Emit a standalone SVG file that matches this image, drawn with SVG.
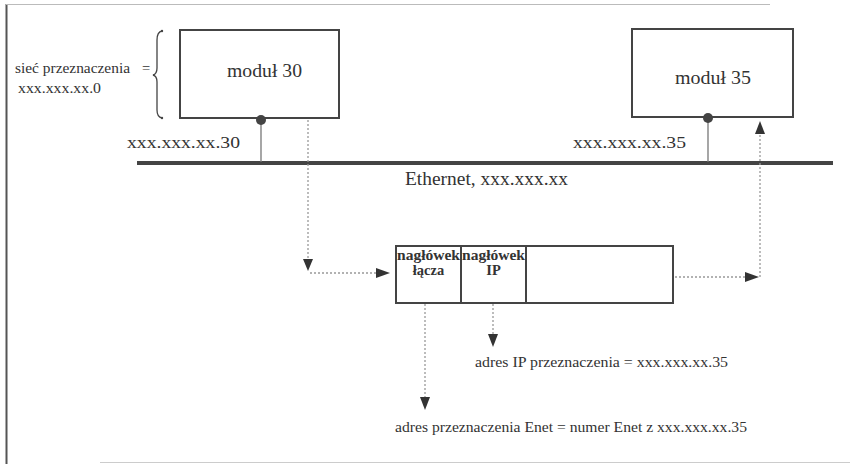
<svg xmlns="http://www.w3.org/2000/svg" width="850" height="464" viewBox="0 0 850 464" font-family="'Liberation Serif', 'DejaVu Serif', serif">
<style>
  text { font-family: "Liberation Serif", "DejaVu Serif", serif; fill: #333; }
  .box { fill: #fff; stroke: #444; stroke-width: 2; }
  .solid { stroke: #777; stroke-width: 1.3; fill: none; }
  .dot { stroke: #999; stroke-width: 1.3; stroke-dasharray: 2 2; fill: none; }
  .ah { fill: #333; }
  .b { font-weight: bold; }
</style>
<rect width="850" height="464" fill="#fff"/>
<g id="frame">
  <line x1="6.5" y1="4" x2="6.5" y2="464" stroke="#555" stroke-width="2"/>
  <line x1="6" y1="4.5" x2="770" y2="4.5" stroke="#bbb" stroke-width="1"/>
  <line x1="100" y1="462.5" x2="850" y2="462.5" stroke="#ccc" stroke-width="1"/>
</g>
<g id="ethernet">
  <line x1="137" y1="163" x2="833" y2="163" stroke="#444" stroke-width="4"/>
  <text x="405" y="185" font-size="19" textLength="163" lengthAdjust="spacingAndGlyphs">Ethernet, xxx.xxx.xx</text>
</g>
<g id="connectors">
  <line class="solid" x1="261" y1="121" x2="261" y2="162"/>
  <line class="solid" x1="708" y1="117" x2="708" y2="162"/>
  <polyline class="dot" points="308,120 308,260"/>
  <polygon class="ah" points="303,259 313,259 308,271"/>
  <polyline class="dot" points="310,273 376,273"/>
  <polygon class="ah" points="376,268 376,278 390,273"/>
  <polyline class="dot" points="675,277 746,277"/>
  <polygon class="ah" points="745,272 745,282 759,277"/>
  <polyline class="dot" points="760,277 760,134"/>
  <polygon class="ah" points="755,134 765,134 760,121"/>
  <polyline class="dot" points="425,304 425,398"/>
  <polygon class="ah" points="420,397 430,397 425,410"/>
  <polyline class="dot" points="493,304 493,335"/>
  <polygon class="ah" points="488,334 498,334 493,347"/>
</g>
<g id="modul30">
  <rect class="box" x="180" y="30" width="159" height="88"/>
  <text x="227" y="77" font-size="19.5" textLength="75" lengthAdjust="spacingAndGlyphs">moduł 30</text>
  <circle cx="261" cy="120" r="5" fill="#444"/>
  <text x="127" y="148" font-size="17" textLength="113" lengthAdjust="spacingAndGlyphs">xxx.xxx.xx.30</text>
</g>
<g id="siec">
  <path d="M162,31 Q157,32 157,40 L157,68 Q157,74 153,75 Q157,76 157,82 L157,110 Q157,117 162,118" fill="none" stroke="#444" stroke-width="1.3"/>
  <circle cx="162" cy="31" r="1.2" fill="#444"/>
  <circle cx="162" cy="118" r="1.2" fill="#444"/>
  <text x="15" y="73" font-size="14.5" textLength="115" lengthAdjust="spacingAndGlyphs">sieć przeznaczenia</text>
  <text x="142" y="73" font-size="14.5">=</text>
  <text x="18" y="93" font-size="14.5" textLength="83" lengthAdjust="spacingAndGlyphs">xxx.xxx.xx.0</text>
</g>
<g id="modul35">
  <rect class="box" x="632" y="29" width="161" height="88"/>
  <text x="675" y="84" font-size="19.5" textLength="76" lengthAdjust="spacingAndGlyphs">moduł 35</text>
  <circle cx="708" cy="118" r="5" fill="#444"/>
  <text x="573" y="148" font-size="17" textLength="113" lengthAdjust="spacingAndGlyphs">xxx.xxx.xx.35</text>
</g>
<g id="pakiet">
  <rect class="box" x="396" y="246" width="277" height="57"/>
  <line x1="461" y1="246" x2="461" y2="303" stroke="#444" stroke-width="2"/>
  <line x1="526" y1="246" x2="526" y2="303" stroke="#444" stroke-width="2"/>
  <text x="397" y="260" font-size="14.5" class="b" textLength="63" lengthAdjust="spacingAndGlyphs">nagłówek</text>
  <text x="428.5" y="275" font-size="14.5" class="b" text-anchor="middle">łącza</text>
  <text x="462" y="260" font-size="14.5" class="b" textLength="63" lengthAdjust="spacingAndGlyphs">nagłówek</text>
  <text x="493.5" y="275" font-size="14.5" class="b" text-anchor="middle">IP</text>
</g>
<g id="adresIP">
  <text x="475" y="367" font-size="14" textLength="253" lengthAdjust="spacingAndGlyphs">adres IP przeznaczenia  = xxx.xxx.xx.35</text>
</g>
<g id="adresEnet">
  <text x="395" y="432" font-size="14" textLength="352" lengthAdjust="spacingAndGlyphs">adres przeznaczenia Enet = numer Enet z xxx.xxx.xx.35</text>
</g>
</svg>
